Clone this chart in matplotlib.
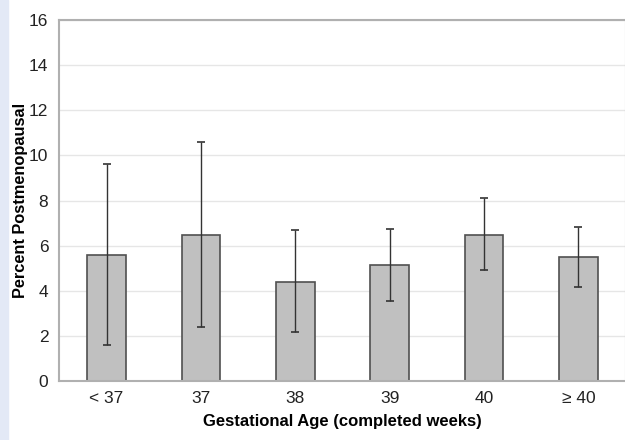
import matplotlib.pyplot as plt
from matplotlib.patches import Rectangle

categories = ['< 37', '37', '38', '39', '40', '\u2265 40']
percent = [5.57, 6.47, 4.41, 5.16, 6.49, 5.48]
ci_low = [1.59, 2.39, 2.16, 3.56, 4.90, 4.15]
ci_high = [9.6, 10.59, 6.68, 6.74, 8.10, 6.83]

plt.rcParams['font.family'] = ['Liberation Sans', 'DejaVu Sans']

fig = plt.figure(figsize=(6.25, 4.4), dpi=100)
fig.patches.append(Rectangle((0, 0), 8 / 625, 1, transform=fig.transFigure,
                             color='#e3e9f6', zorder=0))
ax = fig.add_axes([0.095, 0.134, 0.906, 0.8205])

x = list(range(len(categories)))
yerr = [[p - lo for p, lo in zip(percent, ci_low)],
        [hi - p for p, hi in zip(percent, ci_high)]]

ax.bar(x, percent, width=0.41, color='#c0c0c0', edgecolor='#505050',
       linewidth=1.2, zorder=2)
ax.errorbar(x, percent, yerr=yerr, fmt='none', ecolor='#333333',
            elinewidth=1.0, capsize=3, capthick=1.2, zorder=3)

ax.set_xlim(-0.5, 5.5)
ax.set_ylim(0, 16)
ax.set_yticks(range(0, 17, 2))
ax.set_xticks(x)
ax.set_xticklabels(categories)
ax.tick_params(length=0, labelsize=12.5, colors='#222222')
ax.tick_params(axis='x', pad=7)
ax.tick_params(axis='y', pad=8)
ax.yaxis.grid(True, color='#e6e6e6', linewidth=1, zorder=0)
ax.set_axisbelow(True)
for s in ax.spines.values():
    s.set_color('#b0b0b0')
    s.set_linewidth(1.5)

ax.set_xlabel('Gestational Age (completed weeks)', fontsize=12,
              fontweight='bold')
ax.set_ylabel('Percent Postmenopausal', fontsize=11.8, fontweight='bold')
ax.xaxis.set_label_coords(0.5, -0.09)
ax.yaxis.set_label_coords(-0.056, 0.5)

fig.savefig('out.png', dpi=100)
